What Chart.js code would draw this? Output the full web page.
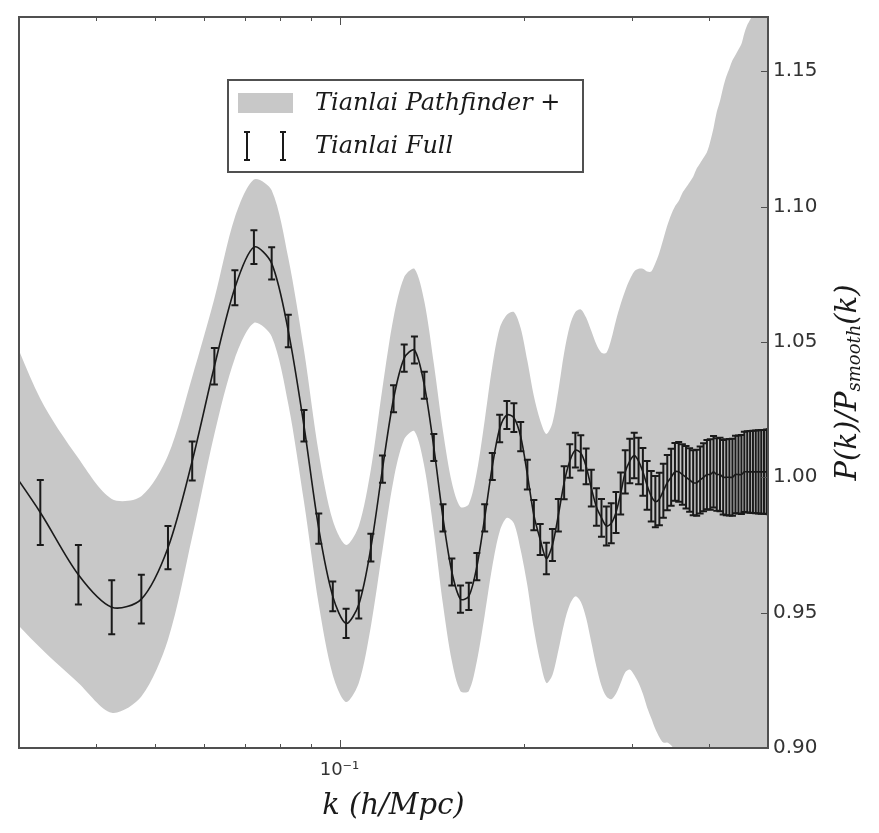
<!DOCTYPE html>
<html>
<head>
<meta charset="utf-8">
<title>Tianlai P(k) ratio</title>
<script src="https://cdn.jsdelivr.net/npm/chart.js@4.4.0/dist/chart.umd.min.js"></script>
<style>
  html, body { margin: 0; padding: 0; background: #fff; }
  #wrap { width: 879px; height: 833px; }
</style>
</head>
<body>
<div id="wrap"><canvas id="pk-chart" width="879" height="833"></canvas></div>
<script>
/* BAO wiggles: P(k)/P_smooth(k) forecast for Tianlai Pathfinder+ and Tianlai Full. */

// ---------------------------------------------------------------------------
// Data
// ---------------------------------------------------------------------------

const kVals = [
    0.0275, 0.0325, 0.0375, 0.0425, 0.0475, 0.0525, 0.0575, 0.0625, 0.0675, 0.0725,
    0.0775, 0.0825, 0.0875, 0.0925, 0.0975, 0.1025, 0.1075, 0.1125, 0.1175, 0.1225,
    0.1275, 0.1325, 0.1375, 0.1425, 0.1475, 0.1525, 0.1575, 0.1625, 0.1675, 0.1725,
    0.1775, 0.1825, 0.1875, 0.1925, 0.1975, 0.2025, 0.2075, 0.2125, 0.2175, 0.2225,
    0.2275, 0.2325, 0.2375, 0.2425, 0.2475, 0.2525, 0.2575, 0.2625, 0.2675, 0.2725,
    0.2775, 0.2825, 0.2875, 0.2925, 0.2975, 0.3025, 0.3075, 0.3125, 0.3175, 0.3225,
    0.3275, 0.3325, 0.3375, 0.3425, 0.3475, 0.3525, 0.3575, 0.3625, 0.3675, 0.3725,
    0.3775, 0.3825, 0.3875, 0.3925, 0.3975, 0.4025, 0.4075, 0.4125, 0.4175, 0.4225,
    0.4275, 0.4325, 0.4375, 0.4425, 0.4475, 0.4525, 0.4575, 0.4625, 0.4675, 0.4725,
    0.4775, 0.4825, 0.4875, 0.4925, 0.4975, 0.5025,
];

// Tianlai Full: P(k)/P_smooth(k) and its 1-sigma error
const ratio = [
    1.011, 0.987, 0.964, 0.952, 0.955, 0.974, 1.006, 1.041, 1.070, 1.085,
    1.079, 1.054, 1.019, 0.981, 0.956, 0.946, 0.953, 0.974, 1.003, 1.029,
    1.044, 1.047, 1.034, 1.011, 0.985, 0.965, 0.955, 0.956, 0.967, 0.985,
    1.004, 1.018, 1.023, 1.022, 1.015, 1.001, 0.986, 0.977, 0.970, 0.975,
    0.986, 0.998, 1.006, 1.010, 1.009, 1.004, 0.996, 0.989, 0.985, 0.982,
    0.983, 0.987, 0.994, 1.002, 1.006, 1.008, 1.006, 1.002, 0.997, 0.993,
    0.991, 0.992, 0.995, 0.998, 1.000, 1.002, 1.002, 1.001, 1.000, 0.999,
    0.998, 0.998, 0.999, 1.000, 1.001, 1.001, 1.002, 1.001, 1.001, 1.000,
    1.000, 1.000, 1.000, 1.001, 1.001, 1.001, 1.002, 1.002, 1.002, 1.002,
    1.002, 1.002, 1.002, 1.002, 1.002, 1.002,
];

const ratioErr = [
    0.0130, 0.0120, 0.0110, 0.0100, 0.0090, 0.0080, 0.0072, 0.0067, 0.0065, 0.0062,
    0.0060, 0.0060, 0.0058, 0.0056, 0.0055, 0.0054, 0.0052, 0.0051, 0.0050, 0.0050,
    0.0050, 0.0050, 0.0050, 0.0050, 0.0050, 0.0050, 0.0050, 0.0050, 0.0050, 0.0050,
    0.0050, 0.0051, 0.0052, 0.0053, 0.0054, 0.0055, 0.0056, 0.0057, 0.0058, 0.0059,
    0.0060, 0.0061, 0.0062, 0.0064, 0.0065, 0.0066, 0.0068, 0.0069, 0.0070, 0.0072,
    0.0074, 0.0076, 0.0078, 0.0080, 0.0082, 0.0084, 0.0086, 0.0088, 0.0090, 0.0093,
    0.0095, 0.0097, 0.0100, 0.0102, 0.0105, 0.0107, 0.0110, 0.0112, 0.0115, 0.0117,
    0.0120, 0.0122, 0.0124, 0.0126, 0.0128, 0.0130, 0.0132, 0.0134, 0.0136, 0.0138,
    0.0140, 0.0141, 0.0142, 0.0143, 0.0144, 0.0146, 0.0148, 0.0150, 0.0151, 0.0152,
    0.0153, 0.0154, 0.0155, 0.0155, 0.0156, 0.0157,
];

// Tianlai Pathfinder+: shaded 1-sigma band
const bandHi = [
    1.068, 1.029, 1.007, 0.992, 0.993, 1.008, 1.037, 1.066, 1.096, 1.110,
    1.106, 1.081, 1.047, 1.009, 0.984, 0.975, 0.982, 1.003, 1.033, 1.059,
    1.074, 1.077, 1.065, 1.042, 1.017, 0.998, 0.989, 0.990, 1.002, 1.021,
    1.041, 1.055, 1.060, 1.061, 1.055, 1.043, 1.030, 1.021, 1.016, 1.020,
    1.032, 1.046, 1.056, 1.061, 1.062, 1.059, 1.054, 1.049, 1.046, 1.046,
    1.051, 1.058, 1.064, 1.069, 1.073, 1.076, 1.077, 1.077, 1.076, 1.076,
    1.079, 1.083, 1.088, 1.093, 1.097, 1.100, 1.102, 1.105, 1.107, 1.109,
    1.111, 1.114, 1.116, 1.118, 1.120, 1.124, 1.129, 1.135, 1.139, 1.144,
    1.148, 1.151, 1.154, 1.156, 1.158, 1.160, 1.164, 1.167, 1.169, 1.171,
    1.174, 1.177, 1.180, 1.183, 1.186, 1.189,
];

const bandLo = [
    0.954, 0.937, 0.924, 0.913, 0.919, 0.940, 0.978, 1.016, 1.044, 1.057,
    1.052, 1.027, 0.991, 0.953, 0.927, 0.917, 0.924, 0.945, 0.973, 0.999,
    1.014, 1.017, 1.004, 0.980, 0.953, 0.932, 0.921, 0.921, 0.932, 0.949,
    0.967, 0.980, 0.985, 0.983, 0.973, 0.960, 0.944, 0.932, 0.924, 0.927,
    0.936, 0.946, 0.953, 0.956, 0.954, 0.948, 0.939, 0.930, 0.923, 0.919,
    0.918, 0.920, 0.924, 0.928, 0.929, 0.927, 0.924, 0.920, 0.915, 0.911,
    0.907, 0.904, 0.902, 0.902, 0.901, 0.899, 0.897, 0.895, 0.893, 0.891,
    0.889, 0.886, 0.884, 0.882, 0.880, 0.877, 0.872, 0.866, 0.862, 0.857,
    0.853, 0.850, 0.847, 0.845, 0.843, 0.841, 0.837, 0.834, 0.832, 0.830,
    0.827, 0.824, 0.821, 0.818, 0.815, 0.812,
];

// Axis ticks
const xMinorTicks = [0.04, 0.05, 0.06, 0.07, 0.08, 0.09, 0.2, 0.3, 0.4];
const xMajorTicks = [0.1];
const xTickLabels = ["10\u207B\u00B9"];
const yTicks = [0.90, 0.95, 1.00, 1.05, 1.10, 1.15];

const legendLabels = ["Tianlai Pathfinder +", "Tianlai Full"];

// ---------------------------------------------------------------------------
// Styles
// ---------------------------------------------------------------------------

const BAND_COLOR = "#c8c8c8";
const INK = "#1a1a1a";
const FRAME = "#505050";
const SERIF_IT = "italic 29px 'DejaVu Serif'";

const pts = (vals) => kVals.map((k, i) => ({ x: k, y: vals[i] }));

// ---------------------------------------------------------------------------
// Custom drawing: error bars, frame, inward ticks, legend, axis titles
// ---------------------------------------------------------------------------

function drawErrorBars(chart) {
    const { ctx, chartArea: a, scales } = chart;
    ctx.save();
    ctx.beginPath();
    ctx.rect(a.left, a.top, a.right - a.left, a.bottom - a.top);
    ctx.clip();
    ctx.strokeStyle = INK;
    ctx.lineWidth = 2;
    kVals.forEach((k, i) => {
        const px = scales.x.getPixelForValue(k);
        const lo = scales.y.getPixelForValue(ratio[i] - ratioErr[i]);
        const hi = scales.y.getPixelForValue(ratio[i] + ratioErr[i]);
        ctx.beginPath();
        ctx.moveTo(px, lo); ctx.lineTo(px, hi);
        ctx.moveTo(px - 3.5, lo); ctx.lineTo(px + 3.5, lo);
        ctx.moveTo(px - 3.5, hi); ctx.lineTo(px + 3.5, hi);
        ctx.stroke();
    });
    ctx.restore();
}

function drawFrameAndTicks(chart) {
    const { ctx, chartArea: a, scales } = chart;
    ctx.save();
    ctx.strokeStyle = FRAME;
    ctx.lineWidth = 1;
    const xTick = (v, len) => {
        const px = Math.round(scales.x.getPixelForValue(v)) + 0.5;
        ctx.beginPath();
        ctx.moveTo(px, a.bottom); ctx.lineTo(px, a.bottom - len);
        ctx.moveTo(px, a.top); ctx.lineTo(px, a.top + len);
        ctx.stroke();
    };
    xMinorTicks.forEach((v) => xTick(v, 4));
    xMajorTicks.forEach((v) => xTick(v, 8));
    yTicks.forEach((v) => {
        const py = Math.round(scales.y.getPixelForValue(v)) + 0.5;
        ctx.beginPath();
        ctx.moveTo(a.right, py); ctx.lineTo(a.right - 7, py);
        ctx.stroke();
    });
    ctx.lineWidth = 2;
    ctx.strokeRect(a.left, a.top, a.right - a.left, a.bottom - a.top);
    ctx.restore();
}

function drawLegend(chart) {
    const { ctx } = chart;
    ctx.save();
    ctx.fillStyle = "#fff";
    ctx.fillRect(228, 80, 355, 92);
    ctx.strokeStyle = FRAME;
    ctx.lineWidth = 2;
    ctx.strokeRect(228, 80, 355, 92);

    // band patch
    ctx.fillStyle = BAND_COLOR;
    ctx.fillRect(238, 93, 55, 20);

    // error bar glyphs
    ctx.strokeStyle = INK;
    ctx.lineWidth = 2;
    [247, 283].forEach((px) => {
        ctx.beginPath();
        ctx.moveTo(px, 132); ctx.lineTo(px, 160);
        ctx.moveTo(px - 3, 132); ctx.lineTo(px + 3, 132);
        ctx.moveTo(px - 3, 160); ctx.lineTo(px + 3, 160);
        ctx.stroke();
    });

    ctx.fillStyle = INK;
    ctx.font = "italic 24px 'DejaVu Serif'";
    ctx.textBaseline = "middle";
    ctx.textAlign = "left";
    ctx.fillText(legendLabels[0], 315, 104);
    ctx.fillText(legendLabels[1], 315, 147);
    ctx.restore();
}

function drawTitles(chart) {
    const { ctx, chartArea: a } = chart;
    ctx.save();
    ctx.fillStyle = INK;

    // x title
    ctx.font = SERIF_IT;
    ctx.textAlign = "center";
    ctx.textBaseline = "middle";
    ctx.fillText("k (h/Mpc)", (a.left + a.right) / 2, 806);

    // y title, rotated, with a subscript
    const parts = [
        { t: "P(k)/P", font: SERIF_IT, dy: 0 },
        { t: "smooth", font: "italic 18px 'DejaVu Serif'", dy: 7 },
        { t: "(k)", font: SERIF_IT, dy: 0 },
    ];
    let total = 0;
    parts.forEach((p) => { ctx.font = p.font; p.w = ctx.measureText(p.t).width; total += p.w; });
    ctx.translate(848, (a.top + a.bottom) / 2);
    ctx.rotate(-Math.PI / 2);
    ctx.textAlign = "left";
    ctx.textBaseline = "middle";
    let cx = -total / 2;
    parts.forEach((p) => {
        ctx.font = p.font;
        ctx.fillText(p.t, cx, p.dy);
        cx += p.w;
    });
    ctx.restore();
}

const overlayPlugin = {
    id: "overlay",
    afterDatasetsDraw(chart) {
        drawErrorBars(chart);
    },
    afterDraw(chart) {
        drawFrameAndTicks(chart);
        drawLegend(chart);
        drawTitles(chart);
    },
};

// ---------------------------------------------------------------------------
// Chart setup
// ---------------------------------------------------------------------------

const ctx = document.getElementById("pk-chart").getContext("2d");
const pkChart = new Chart(ctx, {
    type: "line",
    data: {
        datasets: [
            {
                label: "Tianlai Full",
                data: pts(ratio),
                borderColor: INK,
                borderWidth: 1.6,
                pointRadius: 0,
                fill: false,
                tension: 0.3,
            },
            {
                label: "Tianlai Pathfinder +",
                data: pts(bandHi),
                borderWidth: 0,
                borderColor: "transparent",
                backgroundColor: BAND_COLOR,
                pointRadius: 0,
                fill: "+1",
                tension: 0.3,
            },
            {
                label: "band lower",
                data: pts(bandLo),
                borderWidth: 0,
                borderColor: "transparent",
                pointRadius: 0,
                fill: false,
                tension: 0.3,
            },
        ],
    },
    options: {
        responsive: false,
        animation: false,
        devicePixelRatio: 1,
        layout: { padding: { left: 19, top: 10, right: 0, bottom: 0 } },
        plugins: {
            legend: { display: false },
            tooltip: { enabled: false },
        },
        scales: {
            x: {
                type: "logarithmic",
                min: 0.03,
                max: 0.5,
                grid: { display: false, drawTicks: false },
                border: { display: false },
                afterBuildTicks: (s) => { s.ticks = xMajorTicks.map((v) => ({ value: v })); },
                afterFit: (s) => { s.height = 85; },
                ticks: {
                    autoSkip: false,
                    maxRotation: 0,
                    padding: 12,
                    color: "#333",
                    font: { family: "DejaVu Sans", size: 18 },
                    callback: (v, i) => xTickLabels[i],
                },
            },
            y: {
                type: "linear",
                position: "right",
                min: 0.9,
                max: 1.17,
                grid: { display: false, drawTicks: false },
                border: { display: false },
                afterBuildTicks: (s) => { s.ticks = yTicks.map((v) => ({ value: v })); },
                afterFit: (s) => { s.width = 111; },
                ticks: {
                    autoSkip: false,
                    padding: 5,
                    color: "#333",
                    font: { family: "DejaVu Sans", size: 20 },
                    callback: (v) => v.toFixed(2),
                },
            },
        },
    },
    plugins: [overlayPlugin],
});
</script>
</body>
</html>
